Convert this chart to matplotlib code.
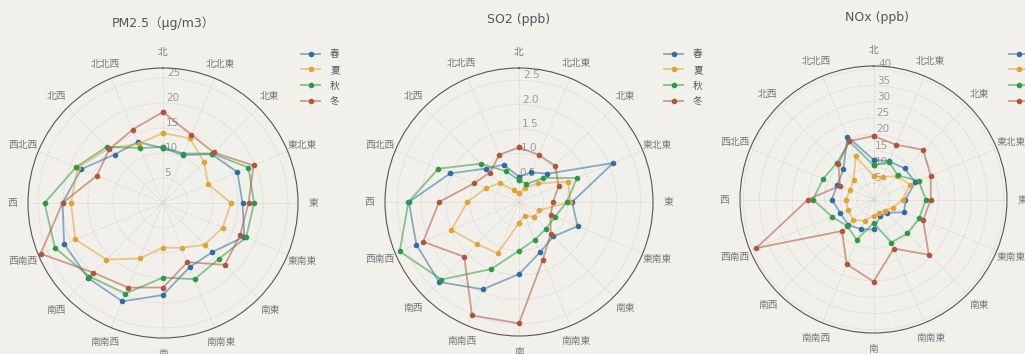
import numpy as np
import matplotlib
matplotlib.use('Agg')
from matplotlib import pyplot as plt
from matplotlib.colors import to_rgba

plt.rcParams['font.family'] = ['DejaVu Sans', 'Noto Sans CJK JP']

directions = ['北', '北北東', '北東', '東北東', '東', '東南東', '南東', '南南東',
              '南', '南南西', '南西', '西南西', '西', '西北西', '北西', '北北西']
seasons = ['春', '夏', '秋', '冬']
colors = ['#2f6ea5', '#e0a436', '#2f9a45', '#b0563f']

# PM2.5 by wind direction
pm25_spring = [11.0, 10.4, 13.8, 16.1, 15.9, 17.6, 13.9, 13.9, 18.4, 21.3, 21.2, 21.4, 20.1, 17.7, 13.7, 13.2]
pm25_summer = [14.0, 14.0, 11.6, 9.8, 13.6, 12.9, 11.8, 9.7, 8.9, 12.0, 16.0, 19.0, 18.4, 18.5, 15.4, 12.8]
pm25_autumn = [11.2, 10.7, 14.0, 18.5, 18.2, 18.0, 15.8, 16.5, 14.9, 19.6, 20.8, 23.4, 23.7, 18.8, 15.9, 11.9]
pm25_winter = [18.2, 14.8, 14.3, 19.6, 17.1, 16.7, 17.5, 12.8, 16.9, 18.3, 19.7, 26.5, 20.1, 14.3, 15.2, 15.9]

# SO2
so2_spring = [0.52, 0.66, 0.82, 2.09, 1.09, 1.30, 1.00, 1.12, 1.48, 1.94, 2.32, 2.28, 2.26, 1.53, 0.97, 0.83]
so2_summer = [0.18, 0.31, 0.54, 1.09, 1.05, 0.45, 0.44, 0.30, 0.43, 1.14, 1.22, 1.50, 1.06, 0.74, 0.55, 0.26]
so2_autumn = [0.45, 0.40, 0.70, 1.29, 0.98, 0.80, 0.78, 0.84, 1.00, 1.49, 2.25, 2.65, 2.27, 1.79, 1.11, 0.68]
so2_winter = [1.12, 1.05, 1.05, 0.88, 0.70, 0.70, 0.92, 1.28, 2.49, 2.52, 1.59, 2.13, 1.64, 1.00, 0.85, 1.05]

# NOx
nox_spring = [12.2, 12.7, 13.5, 13.9, 9.8, 10.2, 5.8, 5.5, 9.2, 9.9, 11.0, 11.0, 12.8, 12.0, 13.1, 20.9]
nox_summer = [7.2, 7.5, 10.2, 12.0, 9.0, 6.5, 4.8, 4.5, 5.0, 7.1, 8.8, 8.5, 8.5, 7.8, 8.6, 14.3]
nox_autumn = [10.5, 12.5, 10.5, 15.0, 16.1, 15.2, 14.7, 14.3, 7.2, 13.4, 11.5, 13.8, 18.6, 16.7, 15.9, 19.3]
nox_winter = [19.5, 18.2, 21.6, 19.0, 17.6, 16.5, 24.0, 16.3, 25.2, 21.5, 13.7, 39.0, 20.1, 11.1, 15.3, 19.4]

panels = [
    ('PM2.5（μg/m3）', [pm25_spring, pm25_summer, pm25_autumn, pm25_winter], 27),
    ('SO2 (ppb)', [so2_spring, so2_summer, so2_autumn, so2_winter], 2.75),
    ('NOx (ppb)', [nox_spring, nox_summer, nox_autumn, nox_winter], 41),
]

W, H = 1025, 354
bg = '#f1f0ea'
fig = plt.figure(figsize=(W / 100, H / 100), dpi=100, facecolor=bg)

# pixel boxes (left, top, size), title centre, legend anchor
boxes = [(28, 68, 270), (385, 68, 268), (740, 66, 267)]
title_pos = [(163, 23), (519, 20), (877, 18)]
legend_pos = [(301, 49), (664, 49), (1009, 49)]

theta = np.deg2rad(np.arange(16) * 22.5)
theta_c = np.append(theta, theta[0])

for i, (title, series, rmax) in enumerate(panels):
    l, t, s = boxes[i]
    ax = fig.add_axes([l / W, 1 - (t + s) / H, s / W, s / H], projection='polar')
    ax.set_facecolor('none')
    ax.set_theta_zero_location('N')
    ax.set_theta_direction(-1)
    for vals, season, c in zip(series, seasons, colors):
        v = np.append(vals, vals[0])
        ax.plot(theta_c, v, color=to_rgba(c, 0.55), lw=1.3, marker='o', markersize=3,
                markerfacecolor=c, markeredgecolor=c, label=season)
    ax.set_ylim(0, rmax)
    ax.set_xticks(theta)
    ax.set_xticklabels(directions, fontsize=7, color='#777777', family=['Noto Sans CJK JP'])
    ax.tick_params(axis='x', pad=1)
    ax.tick_params(axis='y', labelsize=7.5, labelcolor='#9a9a9a')
    ax.set_rlabel_position(2)
    ax.grid(True, color='#c8c8c4', lw=0.6, ls=':')
    ax.spines['polar'].set_color('#555555')
    ax.spines['polar'].set_linewidth(0.8)
    fig.text(title_pos[i][0] / W, 1 - title_pos[i][1] / H, title, ha='center', va='center',
             fontsize=9, color='#555555')
    lx, ly = legend_pos[i]
    ax.legend(loc='upper left', bbox_to_anchor=(lx / W, 1 - ly / H), bbox_transform=fig.transFigure,
              frameon=False, handlelength=2.0, handletextpad=1.0, labelspacing=0.6,
              borderpad=0, borderaxespad=0, prop={'family': ['Noto Sans CJK JP'], 'size': 7},
              labelcolor='#555555')

fig.savefig('out.png', dpi=100, facecolor=bg)
